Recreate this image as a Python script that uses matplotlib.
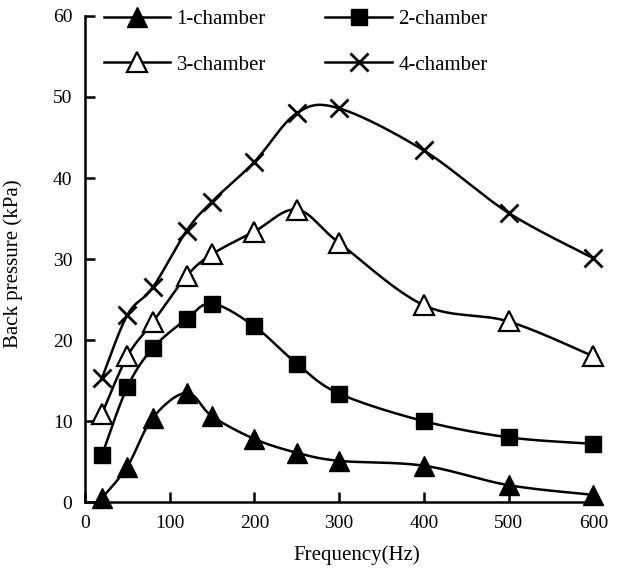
import numpy as np
import matplotlib.pyplot as plt
from matplotlib.lines import Line2D

plt.rcParams['font.family'] = ['Liberation Serif', 'DejaVu Serif']

freq = [20, 50, 80, 120, 150, 200, 250, 300, 400, 500, 600]
p1 = [0.5, 4.4, 10.4, 13.5, 10.6, 7.8, 6.1, 5.1, 4.5, 2.1, 0.9]
p2 = [5.8, 14.2, 19.0, 22.6, 24.5, 21.7, 17.1, 13.4, 10.0, 8.0, 7.2]
p3 = [10.9, 18.0, 22.2, 27.9, 30.6, 33.4, 36.1, 32.0, 24.3, 22.3, 18.0]
p4 = [15.3, 23.1, 26.5, 33.5, 37.1, 42.0, 48.0, 48.6, 43.4, 35.7, 30.1]
labels = ["1-chamber", "2-chamber", "3-chamber", "4-chamber"]


def smooth(x, y, n=30):
    # catmull-rom style smoothing, like the spreadsheet "smoothed line"
    x = np.asarray(x, float)
    y = np.asarray(y, float)
    xs, ys = [], []
    for i in range(len(x) - 1):
        x0, y0 = (x[i - 1], y[i - 1]) if i > 0 else (x[i], y[i])
        x3, y3 = (x[i + 2], y[i + 2]) if i + 2 < len(x) else (x[i + 1], y[i + 1])
        x1, y1, x2, y2 = x[i], y[i], x[i + 1], y[i + 1]
        c1 = (x1 + (x2 - x0) / 6, y1 + (y2 - y0) / 6)
        c2 = (x2 - (x3 - x1) / 6, y2 - (y3 - y1) / 6)
        t = np.linspace(0, 1, n)
        xs.append((1 - t) ** 3 * x1 + 3 * (1 - t) ** 2 * t * c1[0] + 3 * (1 - t) * t ** 2 * c2[0] + t ** 3 * x2)
        ys.append((1 - t) ** 3 * y1 + 3 * (1 - t) ** 2 * t * c1[1] + 3 * (1 - t) * t ** 2 * c2[1] + t ** 3 * y2)
    return np.concatenate(xs), np.concatenate(ys)


fig = plt.figure(figsize=(6.18, 5.7), dpi=100)
ax = fig.add_axes([0.1375, 0.119, 0.8225, 0.853])

styles = [
    dict(marker="^", mfc="black", ms=14),
    dict(marker="s", mfc="black", ms=12),
    dict(marker="^", mfc="white", ms=14, mew=1.6),
    dict(marker="x", mfc="black", ms=13, mew=2),
]
handles = []
for y, st, lab in zip([p1, p2, p3, p4], styles, labels):
    sx, sy = smooth(freq, y)
    ax.plot(sx, sy, color="black", lw=1.8, zorder=2, clip_on=False)
    ax.plot(freq, y, ls="none", color="black", mec="black", zorder=3, clip_on=False, **st)
    handles.append(Line2D([], [], color="black", lw=1.8, **st))

ax.set_xlim(0, 600)
ax.set_ylim(0, 60)
ax.set_xticks(range(0, 601, 100))
ax.set_yticks(range(0, 61, 10))
for s in ["top", "right"]:
    ax.spines[s].set_visible(False)
for s in ["left", "bottom"]:
    ax.spines[s].set_linewidth(1.8)
ax.tick_params(direction="in", length=7, width=1.8, labelsize=14, pad=9)
ax.set_xlabel("Frequency(Hz)", fontsize=15)
ax.xaxis.set_label_coords(0.535, -0.089)
ax.set_ylabel("Back pressure (kPa)", fontsize=15)
ax.yaxis.set_label_coords(-0.122, 0.49)

# ncol=2 fills column-wise, so reorder to get 1,2 on first row and 3,4 on second
order = [0, 2, 1, 3]
ax.legend([handles[i] for i in order], [labels[i] for i in order], ncol=2,
          frameon=False, fontsize=15, loc="upper left",
          bbox_to_anchor=(0.0, 1.052), handlelength=3.2, columnspacing=2.85,
          labelspacing=1.25, handletextpad=0.3)

fig.savefig("out.png", dpi=100)
